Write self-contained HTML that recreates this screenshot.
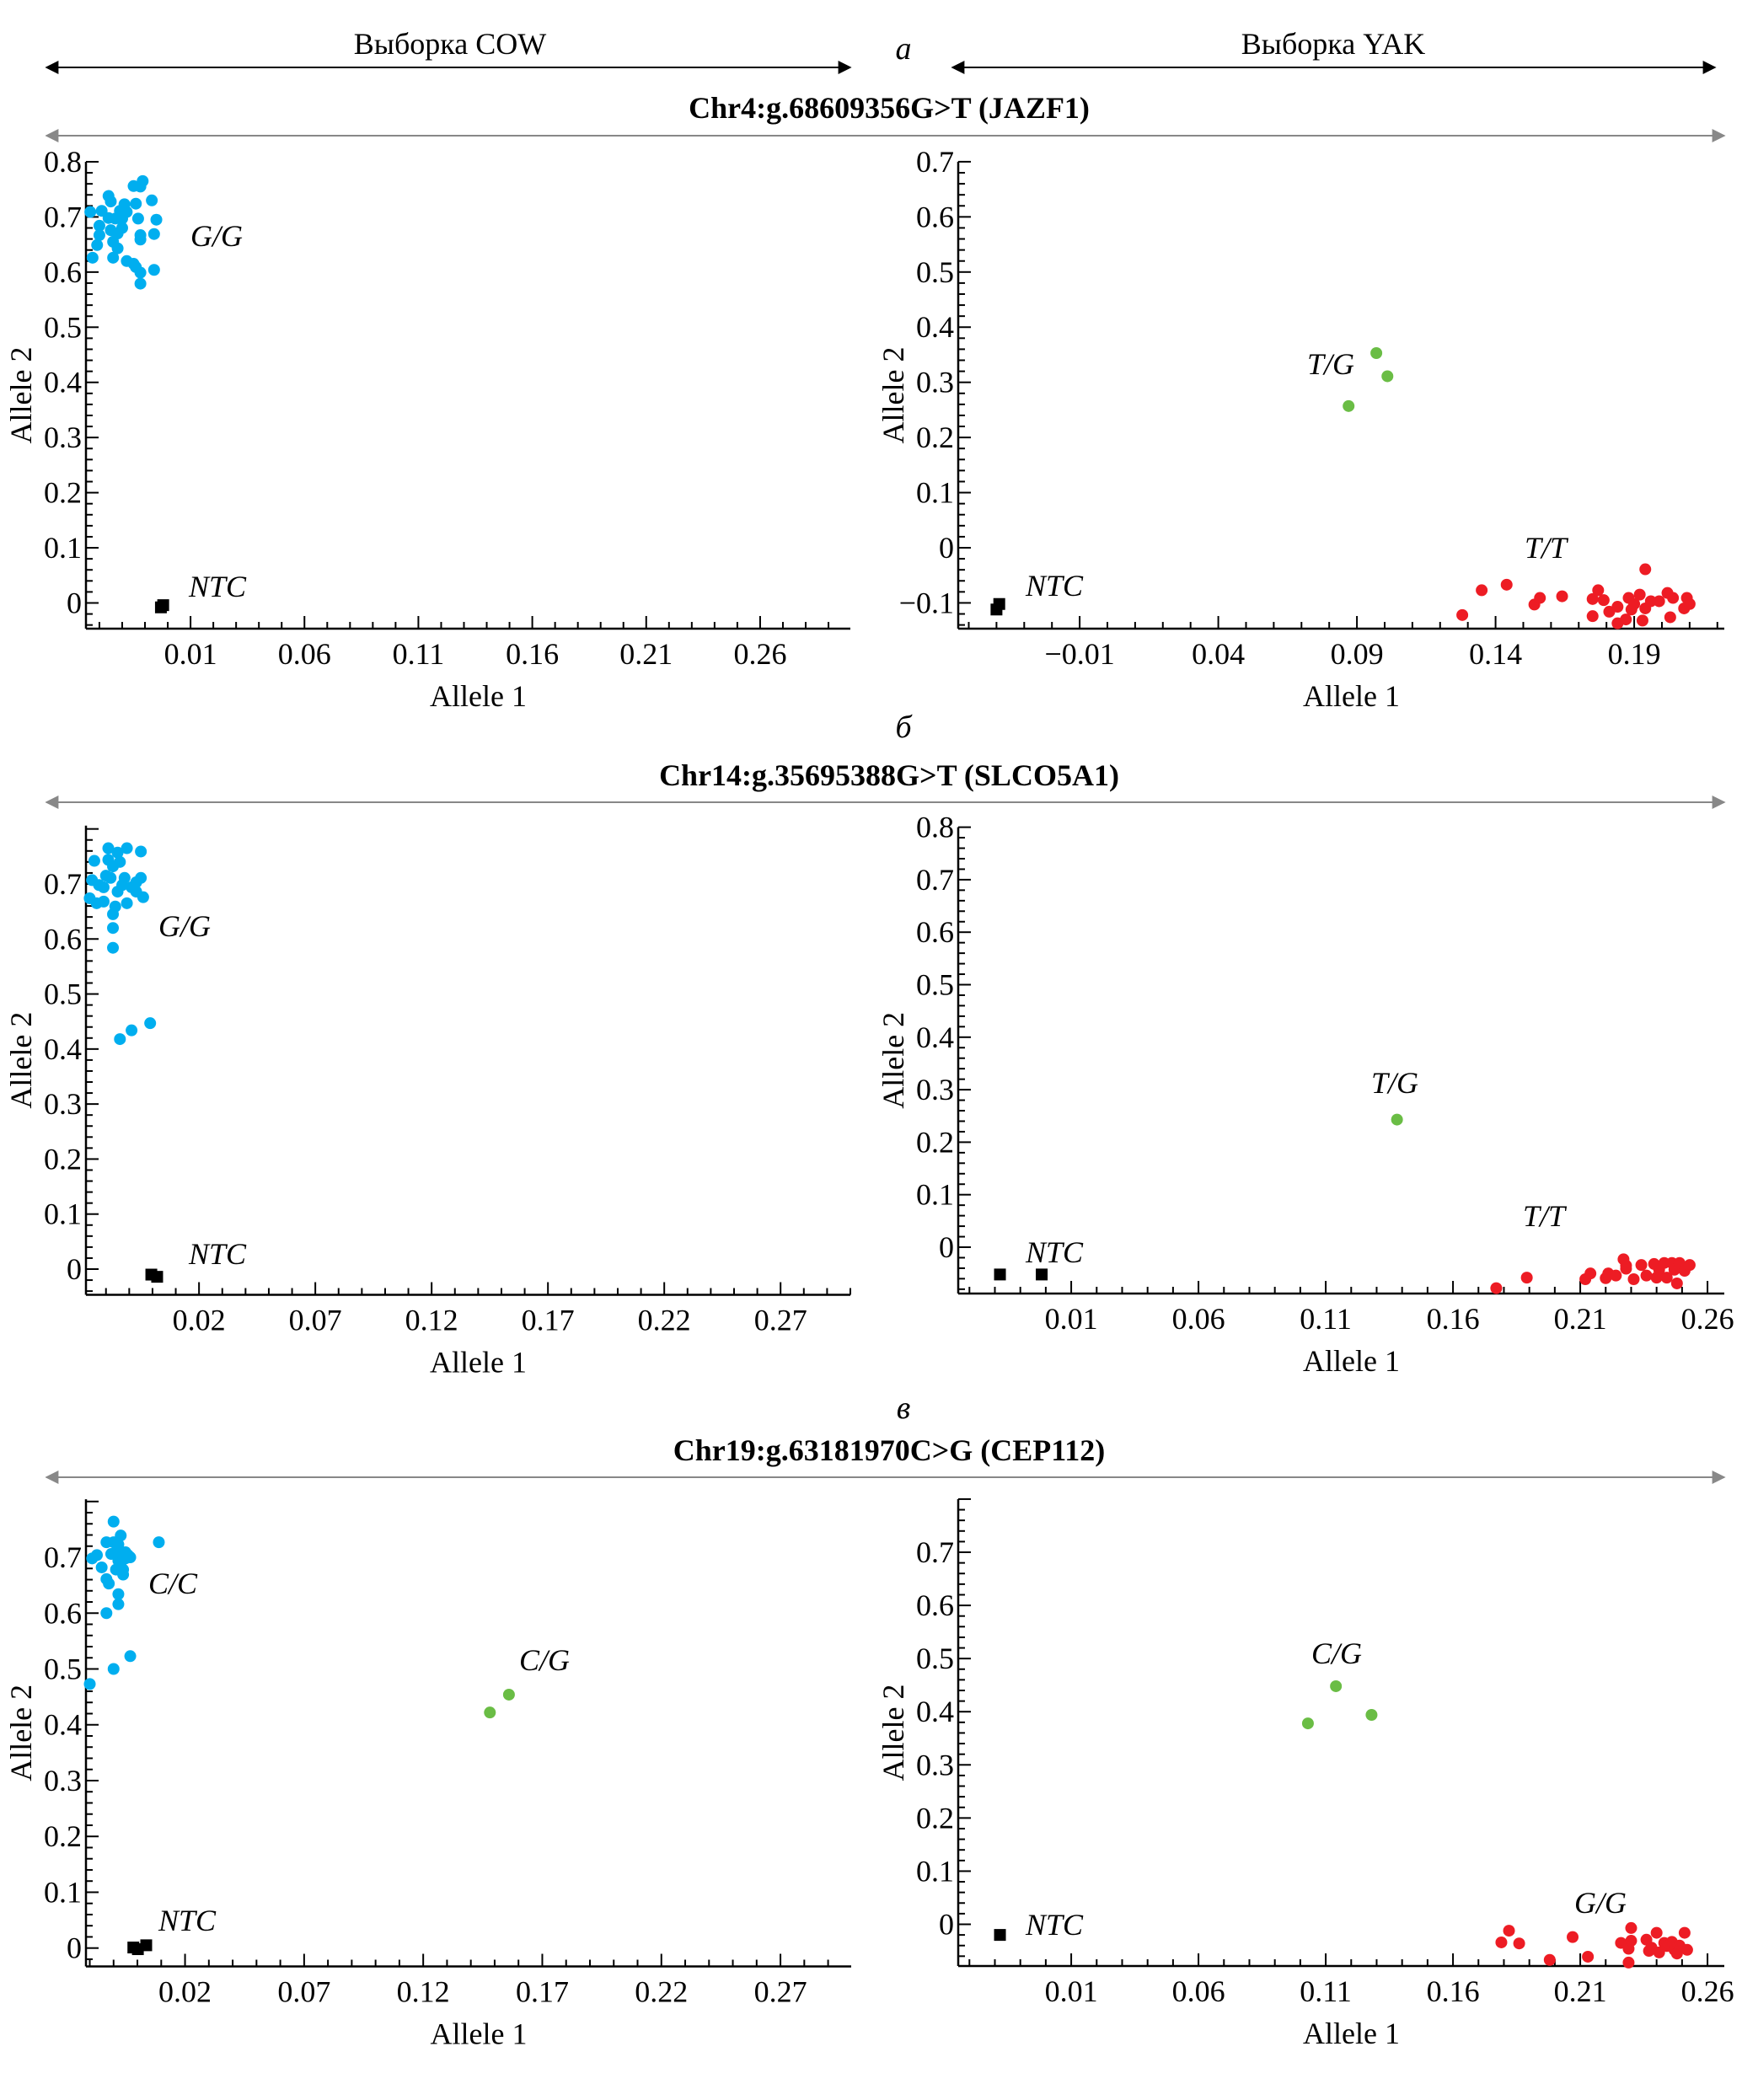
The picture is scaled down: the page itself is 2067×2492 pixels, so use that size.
<!DOCTYPE html>
<html><head><meta charset="utf-8"><style>
html,body{margin:0;padding:0;background:#fff;}
svg{display:block;font-family:"Liberation Serif",serif;}
</style></head><body>
<svg id="fig" width="2067" height="2492" viewBox="0 0 2067 2492" xmlns="http://www.w3.org/2000/svg">
<defs>
<marker id="ahB" viewBox="0 0 10 10" refX="9" refY="5" markerWidth="26" markerHeight="16" markerUnits="userSpaceOnUse" orient="auto-start-reverse"><path d="M0,0 L10,5 L0,10 z" fill="#000"/></marker>
<marker id="ahG" viewBox="0 0 10 10" refX="9" refY="5" markerWidth="26" markerHeight="16" markerUnits="userSpaceOnUse" orient="auto-start-reverse"><path d="M0,0 L10,5 L0,10 z" fill="#888"/></marker>
</defs>
<text x="534" y="64" font-size="36" text-anchor="middle">Выборка COW</text>
<line x1="55" y1="80" x2="1009" y2="80" stroke="#000" stroke-width="2" marker-start="url(#ahB)" marker-end="url(#ahB)"/>
<text x="1582" y="64" font-size="36" text-anchor="middle">Выборка YAK</text>
<line x1="1130" y1="80" x2="2035" y2="80" stroke="#000" stroke-width="2" marker-start="url(#ahB)" marker-end="url(#ahB)"/>
<text x="1072" y="70" font-size="38" font-style="italic" text-anchor="middle">а</text>
<text x="1055" y="140" font-size="36" font-weight="bold" text-anchor="middle">Chr4:g.68609356G&gt;T (JAZF1)</text>
<line x1="55" y1="161" x2="2046" y2="161" stroke="#888" stroke-width="2" marker-start="url(#ahG)" marker-end="url(#ahG)"/>
<text x="1072" y="875" font-size="38" font-style="italic" text-anchor="middle">б</text>
<text x="1055" y="932" font-size="36" font-weight="bold" text-anchor="middle">Chr14:g.35695388G&gt;T (SLCO5A1)</text>
<line x1="55" y1="952" x2="2046" y2="952" stroke="#888" stroke-width="2" marker-start="url(#ahG)" marker-end="url(#ahG)"/>
<text x="1072" y="1683" font-size="38" font-style="italic" text-anchor="middle">в</text>
<text x="1055" y="1733" font-size="36" font-weight="bold" text-anchor="middle">Chr19:g.63181970C&gt;G (CEP112)</text>
<line x1="55" y1="1753" x2="2046" y2="1753" stroke="#888" stroke-width="2" marker-start="url(#ahG)" marker-end="url(#ahG)"/>
</svg>
<script>
// ---- Panel a-COW ----
const p1BlueX=[-0.034,-0.033,-0.029,-0.030,-0.030,-0.026,-0.025,-0.026,-0.025,-0.031,-0.024,-0.024,-0.022,-0.022,-0.023,-0.021,-0.020,-0.019,-0.018,-0.020,-0.018,-0.015,-0.014,-0.012,-0.012,-0.015,-0.011,-0.012,-0.014,-0.013,-0.012,-0.012,-0.007,-0.005,-0.006,-0.006];
const p1BlueY=[0.709,0.626,0.711,0.684,0.667,0.738,0.728,0.698,0.676,0.649,0.626,0.655,0.643,0.670,0.697,0.711,0.697,0.723,0.709,0.680,0.620,0.615,0.609,0.599,0.579,0.756,0.765,0.755,0.724,0.697,0.667,0.659,0.730,0.695,0.669,0.604];
const p1NtcX=[-0.003,-0.002];
const p1NtcY=[-0.008,-0.004];
const p1XLabels=[0.01,0.06,0.11,0.16,0.21,0.26];
const p1YLabels=[0,0.1,0.2,0.3,0.4,0.5,0.6,0.7,0.8];
// ---- Panel a-YAK ----
const p2GreenX=[0.097,0.101,0.087];
const p2GreenY=[0.353,0.311,0.257];
const p2RedX=[0.128,0.135,0.144,0.154,0.156,0.164,0.175,0.177,0.179,0.175,0.181,0.184,0.184,0.187,0.188,0.189,0.190,0.192,0.193,0.194,0.194,0.196,0.199,0.202,0.203,0.204,0.208,0.209,0.210];
const p2RedY=[-0.122,-0.077,-0.067,-0.103,-0.091,-0.088,-0.093,-0.077,-0.095,-0.124,-0.116,-0.107,-0.137,-0.130,-0.091,-0.112,-0.102,-0.085,-0.132,-0.039,-0.110,-0.097,-0.097,-0.082,-0.126,-0.091,-0.110,-0.091,-0.102];
const p2NtcX=[-0.040,-0.039];
const p2NtcY=[-0.112,-0.102];
const p2XLabels=[-0.01,0.04,0.09,0.14,0.19];
const p2YLabels=[-0.1,0,0.1,0.2,0.3,0.4,0.5,0.6,0.7];
// ---- Panel b-COW ----
const p3BlueX=[-0.027,-0.025,-0.026,-0.024,-0.023,-0.021,-0.020,-0.019,-0.019,-0.018,-0.017,-0.017,-0.017,-0.017,-0.016,-0.015,-0.015,-0.014,-0.013,-0.012,-0.011,-0.011,-0.009,-0.007,-0.005,-0.005,-0.004,-0.007,-0.014,-0.009,-0.001,-0.021];
const p3BlueY=[0.674,0.742,0.707,0.665,0.698,0.668,0.715,0.765,0.744,0.711,0.732,0.645,0.620,0.584,0.659,0.686,0.757,0.740,0.698,0.711,0.765,0.665,0.694,0.703,0.759,0.711,0.676,0.686,0.418,0.434,0.447,0.694];
const p3NtcX=[-0.0005,0.002];
const p3NtcY=[-0.010,-0.014];
const p3XLabels=[0.02,0.07,0.12,0.17,0.22,0.27];
const p3YLabels=[0,0.1,0.2,0.3,0.4,0.5,0.6,0.7];
// ---- Panel b-YAK ----
const p4GreenX=[0.138];
const p4GreenY=[0.243];
const p4RedX=[0.177,0.189,0.212,0.214,0.220,0.221,0.224,0.227,0.228,0.228,0.231,0.234,0.236,0.239,0.240,0.241,0.243,0.244,0.246,0.247,0.248,0.249,0.251,0.253];
const p4RedY=[-0.078,-0.058,-0.061,-0.050,-0.059,-0.050,-0.054,-0.023,-0.041,-0.035,-0.061,-0.034,-0.054,-0.032,-0.058,-0.043,-0.030,-0.058,-0.030,-0.043,-0.069,-0.030,-0.045,-0.034];
const p4NtcX=[-0.018,-0.0016];
const p4NtcY=[-0.052,-0.052];
const p4XLabels=[0.01,0.06,0.11,0.16,0.21,0.26];
const p4YLabels=[0,0.1,0.2,0.3,0.4,0.5,0.6,0.7,0.8];
// ---- Panel c-COW ----
const p5BlueX=[-0.019,-0.020,-0.017,-0.015,-0.013,-0.013,-0.013,-0.012,-0.011,-0.010,-0.010,-0.010,-0.009,-0.009,-0.008,-0.008,-0.007,-0.007,-0.008,-0.008,-0.006,-0.006,-0.005,-0.005,-0.004,-0.003,-0.003,0.009];
const p5BlueY=[0.698,0.473,0.704,0.682,0.661,0.600,0.727,0.653,0.706,0.764,0.500,0.727,0.678,0.709,0.694,0.723,0.690,0.739,0.634,0.616,0.669,0.678,0.698,0.709,0.704,0.700,0.523,0.727];
const p5GreenX=[0.148,0.156];
const p5GreenY=[0.422,0.454];
const p5NtcX=[-0.0017,0.0002,0.0037];
const p5NtcY=[0.001,-0.002,0.005];
const p5XLabels=[0.02,0.07,0.12,0.17,0.22,0.27];
const p5YLabels=[0,0.1,0.2,0.3,0.4,0.5,0.6,0.7];
// ---- Panel c-YAK ----
const p6GreenX=[0.103,0.114,0.128];
const p6GreenY=[0.378,0.448,0.394];
const p6RedX=[0.179,0.182,0.186,0.198,0.207,0.213,0.226,0.229,0.229,0.230,0.230,0.236,0.237,0.238,0.240,0.241,0.243,0.244,0.246,0.247,0.248,0.249,0.251,0.252];
const p6RedY=[-0.034,-0.012,-0.036,-0.067,-0.024,-0.061,-0.035,-0.046,-0.072,-0.007,-0.031,-0.029,-0.050,-0.044,-0.016,-0.053,-0.035,-0.041,-0.033,-0.048,-0.055,-0.040,-0.016,-0.048];
const p6NtcX=[-0.018];
const p6NtcY=[-0.020];
const p6XLabels=[0.01,0.06,0.11,0.16,0.21,0.26];
const p6YLabels=[0,0.1,0.2,0.3,0.4,0.5,0.6,0.7];

const NS='http://www.w3.org/2000/svg';
const svg=document.getElementById('fig');
const BLUE='#00aeef',GREEN='#6abd45',RED='#ed1c24';
function mk(tag,attrs,parent){const e=document.createElementNS(NS,tag);for(const k in attrs)e.setAttribute(k,attrs[k]);(parent||svg).appendChild(e);return e;}
function fmt(v){if(Math.abs(v)<1e-9)return '0';const s=(Math.round(v*100)/100).toString();return v<0?'\u2212'+s.slice(1):s;}

function panel(cfg){
  const g=mk('g',{});
  
  
  const sx=v=>cfg.L+(v-cfg.xmin)/(cfg.xmax-cfg.xmin)*(cfg.R-cfg.L);
  const sy=v=>cfg.y0-v*cfg.ky;
  const B=cfg.B, T=sy(cfg.ymax);
  const ax=mk('line',{x1:cfg.L,y1:B,x2:cfg.R,y2:B,stroke:'#000','stroke-width':2.5},g);
  
  
  const ay=mk('line',{x1:cfg.L,y1:B,x2:cfg.L,y2:T,stroke:'#000','stroke-width':2.5},g);
  
  
  // x ticks
  const base=cfg.xl[0];
  for(let k=Math.ceil(cfg.xmin/0.01-1e-6);k<=Math.floor(cfg.xmax/0.01+1e-6);k++){
    const v=k*0.01, r=(v-base)/0.05, maj=Math.abs(r-Math.round(r))<1e-6;
    const x=sx(v);
    const t=mk('line',{x1:x,y1:B,x2:x,y2:B-(maj?15:8),stroke:'#000','stroke-width':2},g);
    
    
  }
  cfg.xl.forEach(v=>{const t=mk('text',{x:sx(v),y:B+42,'font-size':36,'text-anchor':'middle'},g);t.textContent=fmt(v);
    
    });
  for(let k=Math.ceil(cfg.ymin/0.02-1e-6);k<=Math.floor(cfg.ymax/0.02+1e-6);k++){
    const v=k*0.02, maj=Math.abs(v*10-Math.round(v*10))<1e-6;
    const y=sy(v);
    const t=mk('line',{x1:cfg.L,y1:y,x2:cfg.L+(maj?15:8),y2:y,stroke:'#000','stroke-width':2},g);
    
    
  }
  cfg.yl.forEach(v=>{const t=mk('text',{x:cfg.L-5,y:sy(v)+12,'font-size':36,'text-anchor':'end'},g);t.textContent=fmt(v);
    
    });
  const xt=mk('text',{x:(cfg.L+cfg.R)/2+12,y:B+92,'font-size':36,'text-anchor':'middle'},g);xt.textContent='Allele 1';
  
  
  const ym=(B+T)/2;
  const yt=mk('text',{x:cfg.L-65,y:ym,'font-size':36,'text-anchor':'middle',transform:`rotate(-90 ${cfg.L-65} ${ym})`},g);yt.textContent='Allele 2';
  
  
  cfg.series.forEach(s=>{
    s.x.forEach((xv,i)=>{
      const px=sx(xv),py=sy(s.y[i]);
      let m;
      if(s.sq){m=mk('rect',{x:px-7,y:py-7,width:14,height:14,fill:'#000'},g);}
      else{m=mk('ellipse',{cx:px,cy:py,rx:7,ry:7,fill:s.c},g);}
      
      
    });
  });
  cfg.labels.forEach(l=>{const t=mk('text',{x:l[1],y:l[2],'font-size':36,'font-style':'italic'},g);t.textContent=l[0];
    
    });
}

panel({name:'panel-a-cow',L:102,R:1009,xmin:-0.0359,xmax:0.2996,y0:715.5,ky:654.4,B:746,ymin:-0.0466,ymax:0.8,xl:p1XLabels,yl:p1YLabels,
  series:[{x:p1BlueX,y:p1BlueY,c:BLUE,n:'gg'},{x:p1NtcX,y:p1NtcY,sq:1,n:'ntc'}],
  labels:[['G/G',226,292],['NTC',224,708]]});
panel({name:'panel-a-yak',L:1137,R:2046,xmin:-0.0538,xmax:0.2225,y0:650,ky:654.4,B:746,ymin:-0.1467,ymax:0.7,xl:p2XLabels,yl:p2YLabels,
  series:[{x:p2GreenX,y:p2GreenY,c:GREEN,n:'tg'},{x:p2RedX,y:p2RedY,c:RED,n:'tt'},{x:p2NtcX,y:p2NtcY,sq:1,n:'ntc'}],
  labels:[['T/G',1551,444],['T/T',1809,662],['NTC',1217,707]]});
panel({name:'panel-b-cow',L:102,R:1009,xmin:-0.0286,xmax:0.30,y0:1506,ky:652.9,B:1536.5,ymin:-0.0467,ymax:0.806,xl:p3XLabels,yl:p3YLabels,
  series:[{x:p3BlueX,y:p3BlueY,c:BLUE,n:'gg'},{x:p3NtcX,y:p3NtcY,sq:1,n:'ntc'}],
  labels:[['G/G',188,1111],['NTC',224,1500]]});
panel({name:'panel-b-yak',L:1137,R:2046,xmin:-0.0344,xmax:0.2666,y0:1480,ky:623,B:1535,ymin:-0.088,ymax:0.8,xl:p4XLabels,yl:p4YLabels,
  series:[{x:p4GreenX,y:p4GreenY,c:GREEN,n:'tg'},{x:p4RedX,y:p4RedY,c:RED,n:'tt'},{x:p4NtcX,y:p4NtcY,sq:1,n:'ntc'}],
  labels:[['T/G',1627,1297],['T/T',1807,1455],['NTC',1217,1498]]});
panel({name:'panel-c-cow',L:102,R:1010,xmin:-0.0216,xmax:0.2997,y0:2311.7,ky:662.4,B:2333.5,ymin:-0.033,ymax:0.804,xl:p5XLabels,yl:p5YLabels,
  series:[{x:p5BlueX,y:p5BlueY,c:BLUE,n:'cc'},{x:p5GreenX,y:p5GreenY,c:GREEN,n:'cg'},{x:p5NtcX,y:p5NtcY,sq:1,n:'ntc'}],
  labels:[['C/C',176,1891],['C/G',616,1982],['NTC',188,2291]]});
panel({name:'panel-c-yak',L:1137,R:2046,xmin:-0.0344,xmax:0.2666,y0:2283.5,ky:630.7,B:2333,ymin:-0.0785,ymax:0.8,xl:p6XLabels,yl:p6YLabels,
  series:[{x:p6GreenX,y:p6GreenY,c:GREEN,n:'cg'},{x:p6RedX,y:p6RedY,c:RED,n:'gg'},{x:p6NtcX,y:p6NtcY,sq:1,n:'ntc'}],
  labels:[['C/G',1556,1974],['G/G',1868,2270],['NTC',1217,2296]]});
</script>
</body></html>
